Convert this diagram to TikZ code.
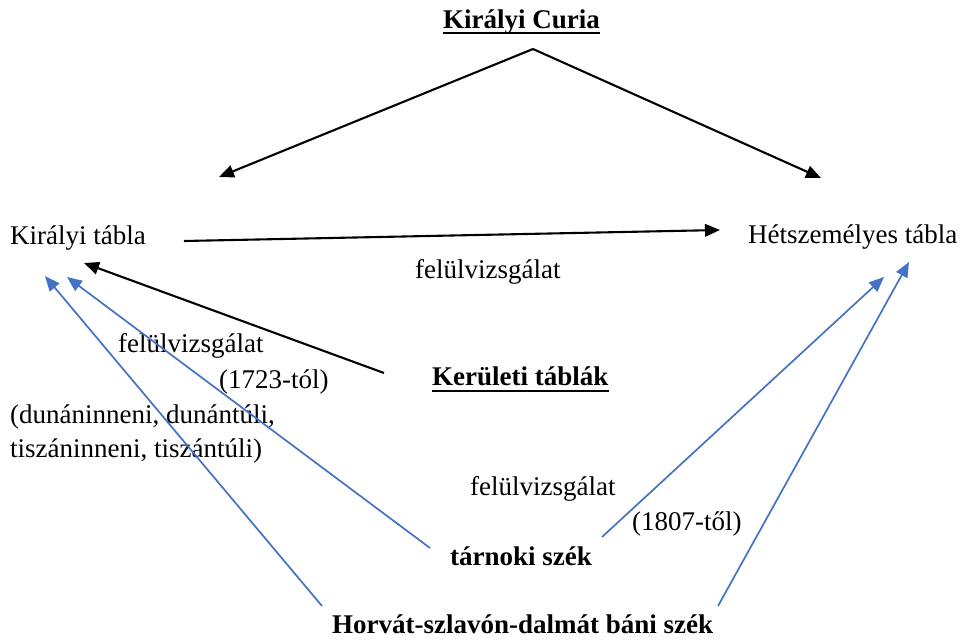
\documentclass[tikz,border=0pt]{standalone}
\usepackage{fontspec}
\setmainfont{Liberation Serif}
\usetikzlibrary{arrows.meta}
\definecolor{linkblue}{RGB}{68,114,196}
\begin{document}
\begin{tikzpicture}[x=1pt,y=-1pt,
  lbl/.style={anchor=base west,inner sep=0pt,font=\fontsize{27}{32}\selectfont},
  head/.style={lbl,font=\fontsize{27}{32}\selectfont\bfseries},
  blackarrow/.style={line width=2.1pt,-{Triangle[length=15pt,width=12.5pt]}},
  bluearrow/.style={line width=1.7pt,draw=linkblue,-{Triangle[length=15pt,width=12.5pt]},color=linkblue},
  uline/.style={line width=2.6pt}]
\useasboundingbox (0,0) rectangle (962,641);

% courts
\node[head] (curia) at (443,28) {Királyi Curia};
\node[lbl]  (kir)   at (10,244) {Királyi tábla};
\node[lbl]  (het)   at (748,243) {Hétszemélyes tábla};
\node[head] (ker)   at (432,385) {Kerületi táblák};
\node[head] (tar)   at (450,565) {tárnoki szék};
\node[head] (hor)   at (332,633) {Horvát-szlavón-dalmát báni szék};

% underlines of the bold headings
\draw[uline] ([yshift=-5pt]curia.base west) -- ([yshift=-5pt]curia.base east);
\draw[uline] ([yshift=-6pt]ker.base west) -- ([yshift=-6pt]ker.base east);

% annotations
\node[lbl] (rev1) at (415,278) {felülvizsgálat};
\node[lbl] (rev2) at (118,352) {felülvizsgálat};
\node[lbl] (y1723) at (219,388) {(1723-tól)};
\node[lbl] (dist1) at (10,423) {(dunáninneni, dunántúli,};
\node[lbl] (dist2) at (10,457) {tiszáninneni, tiszántúli)};
\node[lbl] (rev3) at (470,495) {felülvizsgálat};
\node[lbl] (y1807) at (632,530) {(1807-től)};

% connector end points
\coordinate (apex)   at (533,49);
\coordinate (curL)   at (219,177);
\coordinate (curR)   at (821,178);
\coordinate (kirOut) at (184,241);
\coordinate (hetIn)  at (720,230);
\coordinate (kerOut) at (384,373);
\coordinate (kirIn1) at (84,263);
\coordinate (kirIn2) at (67,277);
\coordinate (kirIn3) at (45,276);
\coordinate (tarL)   at (430,548);
\coordinate (tarR)   at (602,537);
\coordinate (horL)   at (322,606);
\coordinate (horR)   at (718,606);
\coordinate (hetIn1) at (884,277);
\coordinate (hetIn2) at (909,262);

% black connectors
\draw[blackarrow] (apex) -- (curL);
\draw[blackarrow] (apex) -- (curR);
\draw[blackarrow] (kirOut) -- (hetIn);
\draw[blackarrow] (kerOut) -- (kirIn1);

% blue connectors
\draw[bluearrow] (tarL) -- (kirIn2);
\draw[bluearrow] (horL) -- (kirIn3);
\draw[bluearrow] (tarR) -- (hetIn1);
\draw[bluearrow] (horR) -- (hetIn2);
\end{tikzpicture}
\end{document}
